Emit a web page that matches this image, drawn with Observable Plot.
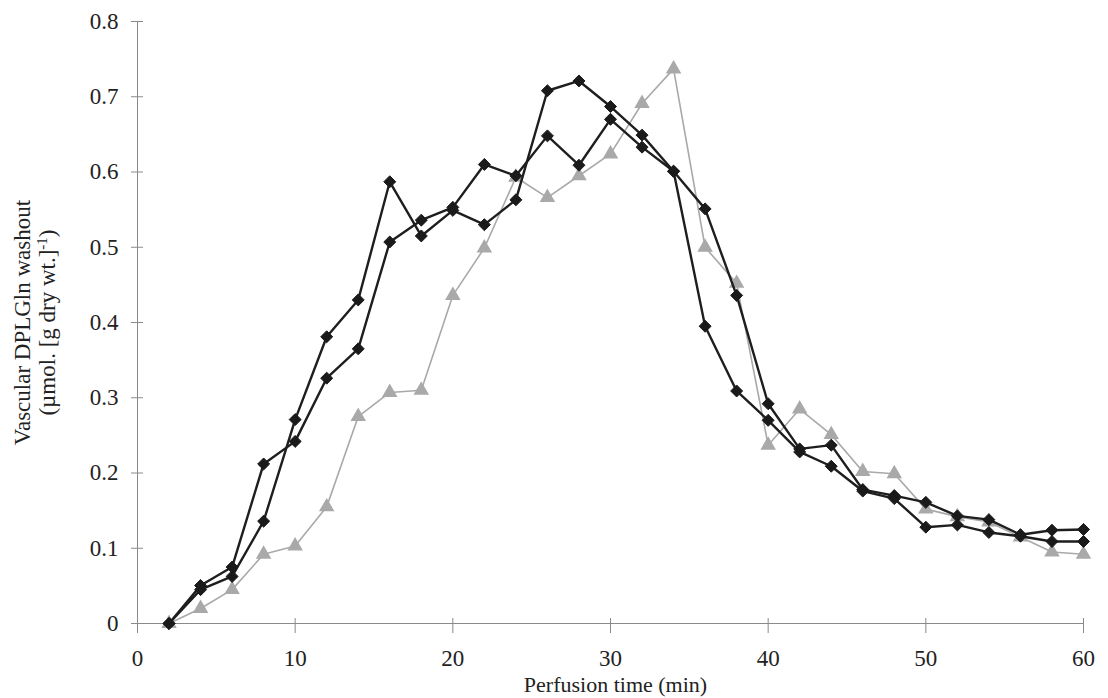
<!DOCTYPE html>
<html><head><meta charset="utf-8">
<script src="https://cdn.jsdelivr.net/npm/d3@7"></script>
<script src="https://cdn.jsdelivr.net/npm/@observablehq/plot@0.6"></script>
<style>
html,body{margin:0;padding:0;background:#fff;}
#chart{width:1108px;height:698px;}
</style></head><body><div id="chart"></div>
<script>
const times   = [2,4,6,8,10,12,14,16,18,20,22,24,26,28,30,32,34,36,38,40,42,44,46,48,50,52,54,56,58,60];
const seriesA = [0,0.045,0.0625,0.136,0.271,0.381,0.430,0.587,0.515,0.549,0.530,0.563,0.708,0.721,0.687,0.649,0.601,0.551,0.436,0.292,0.232,0.237,0.178,0.170,0.161,0.143,0.138,0.118,0.124,0.125];
const seriesB = [0,0.0505,0.075,0.212,0.242,0.326,0.365,0.507,0.536,0.553,0.610,0.595,0.648,0.609,0.670,0.633,0.601,0.395,0.309,0.270,0.228,0.209,0.176,0.166,0.128,0.131,0.121,0.116,0.109,0.109];
const seriesC = [0,0.020,0.045,0.092,0.103,0.155,0.275,0.307,0.310,0.436,0.499,0.593,0.566,0.595,0.624,0.691,0.737,0.500,0.452,0.237,0.285,0.251,0.202,0.199,0.152,0.142,0.135,0.115,0.095,0.092];
const xTicks = [0,10,20,30,40,50,60];
const yTicks = [0,0.1,0.2,0.3,0.4,0.5,0.6,0.7,0.8];
const xTitle = "Perfusion time (min)";
const yTitle1 = "Vascular DPLGln washout";
const yTitle2 = "(µmol. [g dry wt.]-1)";

const rows = (vals, s) => times.map((t, i) => ({t, v: vals[i], s}));
const black = [...rows(seriesA, "A"), ...rows(seriesB, "B")];
const grey = rows(seriesC, "C");

const axisCol = "#8a8a8a";
const textCol = "#222";

const chart = Plot.plot({
  width: 1108, height: 698,
  marginLeft: 137, marginRight: 25, marginTop: 21, marginBottom: 75,
  x: {domain: [0, 60], label: null},
  y: {domain: [0, 0.8], label: null},
  style: {fontFamily: "'Liberation Serif', 'Times New Roman', serif", background: "#fff", color: textCol},
  marks: [
    Plot.ruleX([0], {stroke: axisCol, strokeWidth: 1}),
    Plot.ruleY([0], {stroke: axisCol, strokeWidth: 1}),
    Plot.axisX(xTicks, {tickSize: 15, dy: -5, tickFormat: () => "", stroke: axisCol, label: null}),
    Plot.axisX(xTicks, {tickSize: 0, tickPadding: 26, fontSize: 23, fill: textCol, label: null}),
    Plot.axisY(yTicks, {tickSize: 12, dx: 6, tickFormat: () => "", stroke: axisCol, label: null}),
    Plot.axisY(yTicks, {tickSize: 0, tickPadding: 19, fontSize: 23, fill: textCol, label: null,
      tickFormat: d => d === 0 ? "0" : d.toFixed(1)}),
    Plot.line(grey, {x: "t", y: "v", stroke: "#a9a9a9", strokeWidth: 1.6}),
    Plot.dot(grey, {x: "t", y: "v", symbol: "triangle", r: 4.8, fill: "#a9a9a9", stroke: "#a9a9a9"}),
    Plot.line(black, {x: "t", y: "v", z: "s", stroke: "#1e1e1e", strokeWidth: 2.4}),
    Plot.dot(black, {x: "t", y: "v", symbol: "diamond2", r: 5.4, fill: "#1a1a1a", stroke: "#1a1a1a", strokeWidth: 1}),
    Plot.text([xTitle], {frameAnchor: "bottom", lineAnchor: "middle", dx: 5, dy: 61, text: d => d, fontSize: 22, fill: textCol}),
    Plot.text([yTitle1], {frameAnchor: "left", textAnchor: "middle", lineAnchor: "middle", dx: -115, text: d => d, rotate: -90, fontSize: 23, fill: textCol}),
    Plot.text([yTitle2], {frameAnchor: "left", textAnchor: "middle", lineAnchor: "middle", dx: -90, text: d => d, rotate: -90, fontSize: 23, fill: textCol})
  ]
});

// superscript for the unit
chart.querySelectorAll("text").forEach(el => {
  if (el.textContent === yTitle2) {
    const target = el.querySelector("tspan") || el;
    target.textContent = "";
    const ns = "http://www.w3.org/2000/svg";
    const a = document.createElementNS(ns, "tspan"); a.textContent = "(µmol. [g dry wt.]";
    const b = document.createElementNS(ns, "tspan"); b.textContent = "-1";
    b.setAttribute("baseline-shift", "super"); b.setAttribute("font-size", "15");
    const c = document.createElementNS(ns, "tspan"); c.textContent = ")";
    target.appendChild(a); target.appendChild(b); target.appendChild(c);
  }
});

document.getElementById("chart").appendChild(chart);
</script>
</body></html>
